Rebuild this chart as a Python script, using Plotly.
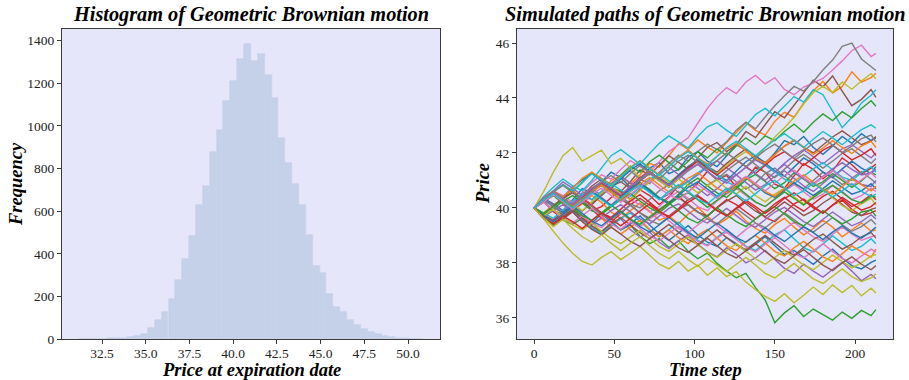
import plotly.graph_objects as go

# ---------------- data: histogram ----------------
bin_centers = [31.39, 31.78, 32.17, 32.57, 32.96, 33.35, 33.75, 34.14, 34.53, 34.92,
               35.32, 35.71, 36.10, 36.50, 36.89, 37.28, 37.67, 38.07, 38.46, 38.85,
               39.25, 39.64, 40.03, 40.43, 40.82, 41.21, 41.60, 42.00, 42.39, 42.78,
               43.18, 43.57, 43.96, 44.36, 44.75, 45.14, 45.53, 45.93, 46.32, 46.71,
               47.11, 47.50, 47.89, 48.29, 48.68, 49.07, 49.46, 49.86, 50.25, 50.64]
bin_width = 0.393
bin_counts = [1, 1, 1, 2, 3, 4, 6, 8, 12, 23,
              50, 89, 127, 188, 277, 376, 484, 630, 719, 880,
              983, 1115, 1212, 1315, 1386, 1303, 1339, 1237, 1131, 943,
              825, 728, 630, 489, 344, 311, 211, 152, 125, 89,
              64, 47, 32, 22, 15, 10, 6, 4, 2, 1]
hist_x_ticks = [32.5, 35.0, 37.5, 40.0, 42.5, 45.0, 47.5, 50.0]
hist_y_ticks = [0, 200, 400, 600, 800, 1000, 1200, 1400]

# ---------------- data: simulated paths ----------------
time_steps = [0, 6, 12, 18, 24, 30, 36, 42, 48, 54,
              60, 66, 72, 78, 84, 90, 96, 102, 108, 114,
              120, 126, 132, 138, 144, 150, 156, 162, 168, 174,
              180, 186, 192, 198, 204, 210, 213]
path_x_ticks = [0, 50, 100, 150, 200]
path_y_ticks = [36, 38, 40, 42, 44, 46]

path_prices = [
    [40.0, 40.35, 40.15, 39.9, 40.3, 40.7, 40.55, 40.95, 41.3, 41.1, 40.75, 41.0, 41.45, 41.65, 41.25, 41.4, 41.85, 42.05, 41.7, 41.5, 41.9, 42.3, 42.1, 41.75, 41.6, 42.0, 42.45, 42.3, 42.6, 42.2, 41.95, 42.25, 42.6, 42.35, 42.7, 42.45, 42.55],
    [40.0, 39.78, 40.05, 40.41, 40.66, 40.3, 40.15, 40.52, 41.0, 41.18, 40.87, 41.2, 41.62, 41.48, 41.9, 42.35, 42.13, 42.47, 42.21, 42.0, 42.38, 42.74, 43.1, 42.82, 42.65, 43.15, 43.48, 43.3, 43.82, 44.26, 44.61, 44.18, 44.42, 44.95, 44.58, 44.74, 44.9],
    [40.0, 39.68, 39.91, 39.55, 39.4, 39.62, 39.3, 39.12, 39.45, 39.2, 39.38, 38.97, 38.7, 38.88, 38.56, 38.8, 38.42, 38.15, 38.36, 37.98, 37.7, 37.46, 37.62, 37.1, 36.65, 35.82, 36.18, 36.44, 36.05, 36.32, 36.12, 35.92, 36.21, 35.98, 36.27, 36.08, 36.3],
    [40.0, 40.22, 39.86, 39.62, 39.95, 40.27, 39.9, 40.05, 40.38, 40.6, 40.31, 40.66, 40.45, 40.12, 40.4, 40.82, 40.58, 40.91, 41.33, 41.02, 41.18, 40.76, 41.05, 41.48, 41.3, 40.86, 40.72, 41.15, 41.61, 41.4, 41.06, 41.35, 41.82, 41.57, 41.24, 41.45, 41.6],
    [40.0, 39.62, 39.41, 39.7, 39.95, 39.58, 39.3, 39.05, 39.38, 39.6, 39.21, 38.94, 39.12, 38.75, 38.52, 38.8, 39.02, 38.68, 38.4, 38.22, 38.55, 38.31, 38.0, 38.18, 38.45, 38.12, 37.8, 37.62, 37.95, 37.7, 37.48, 37.76, 38.02, 37.7, 37.35, 37.58, 37.42],
    [40.0, 40.32, 40.51, 40.22, 40.05, 40.42, 40.8, 41.05, 40.74, 40.6, 40.95, 41.38, 41.2, 41.55, 41.9, 41.66, 41.4, 41.82, 42.2, 42.38, 42.05, 42.3, 42.78, 42.56, 43.02, 43.5, 43.28, 43.75, 44.22, 44.65, 44.41, 44.8, 44.25, 43.72, 43.95, 44.3, 44.02],
    [40.0, 40.28, 40.61, 40.45, 40.2, 40.55, 40.92, 41.2, 41.05, 41.4, 41.72, 41.5, 41.3, 41.68, 42.05, 42.3, 42.55, 43.08, 43.62, 44.05, 44.38, 44.16, 44.58, 44.82, 44.51, 44.74, 44.31, 44.12, 44.4, 44.55, 44.71, 45.02, 45.35, 45.72, 45.92, 45.51, 45.62],
    [40.0, 40.24, 39.92, 39.75, 40.15, 40.52, 40.71, 40.45, 40.82, 41.12, 41.35, 41.05, 40.88, 41.3, 41.62, 41.92, 41.7, 42.05, 42.32, 42.12, 42.41, 42.83, 43.12, 42.88, 43.31, 43.72, 44.08, 44.42, 44.25, 44.6, 45.02, 45.38, 45.88, 46.0, 45.42, 45.12, 45.0],
    [40.0, 39.6, 39.15, 38.72, 38.35, 38.05, 37.92, 38.2, 38.41, 38.12, 38.35, 38.6, 38.28, 37.95, 37.78, 38.05, 37.7, 37.92, 37.55, 37.82, 37.5, 37.68, 37.3, 37.02, 36.78, 36.6, 36.88, 36.55, 36.82, 37.12, 36.85, 37.2, 36.92, 37.18, 36.8, 37.08, 36.9],
    [40.0, 40.42, 40.75, 41.05, 40.8, 40.62, 41.0, 41.45, 41.9, 42.12, 41.85, 41.6, 41.98, 42.35, 42.62, 42.4, 42.18, 42.6, 42.95, 43.1, 42.82, 42.6, 43.0, 43.4, 43.62, 43.35, 43.7, 44.05, 43.85, 44.3, 44.12, 43.5, 42.92, 43.3, 43.82, 44.1, 44.3],
    [40.0, 39.78, 40.1, 40.28, 39.9, 39.62, 39.45, 39.78, 39.5, 39.2, 39.42, 39.71, 39.38, 39.05, 38.82, 39.1, 39.35, 39.02, 38.75, 38.6, 38.92, 38.7, 38.42, 38.68, 38.95, 38.62, 38.3, 38.45, 38.2, 37.95, 38.25, 38.5, 38.18, 37.9, 37.78, 38.02, 38.1],
    [40.0, 40.3, 40.52, 40.2, 39.92, 40.15, 40.45, 40.2, 39.85, 39.62, 39.9, 40.18, 39.88, 39.55, 39.7, 39.42, 39.78, 40.02, 39.7, 39.38, 39.6, 39.88, 39.52, 39.25, 39.08, 39.4, 39.62, 39.3, 39.02, 39.25, 39.55, 39.3, 38.95, 39.2, 39.45, 39.15, 39.2],
    [40.0, 40.22, 40.58, 40.85, 40.6, 40.92, 41.28, 41.05, 40.85, 41.2, 41.52, 41.3, 41.68, 41.92, 41.65, 41.38, 41.7, 42.05, 41.82, 42.15, 41.9, 42.25, 42.55, 42.3, 42.62, 42.45, 42.78, 43.05, 42.75, 43.12, 43.42, 43.18, 43.5, 43.28, 43.62, 43.9, 43.7],
    [40.0, 39.72, 39.45, 39.6, 39.92, 40.18, 39.95, 39.62, 39.48, 39.8, 40.12, 40.35, 40.1, 39.85, 39.7, 39.98, 40.3, 40.45, 40.2, 39.92, 39.7, 39.95, 40.22, 39.98, 39.65, 39.5, 39.82, 40.15, 40.32, 40.05, 39.8, 40.1, 40.28, 39.95, 39.72, 39.82, 39.9],
    [40.0, 40.28, 40.62, 40.95, 40.72, 40.45, 40.3, 40.6, 40.9, 41.15, 40.92, 40.68, 40.95, 41.25, 41.48, 41.2, 40.95, 41.2, 41.5, 41.72, 41.45, 41.2, 41.48, 41.75, 41.55, 41.3, 41.62, 41.9, 42.12, 41.85, 41.6, 41.88, 42.15, 42.3, 42.05, 41.82, 42.0],
    [40.0, 39.8, 40.08, 40.38, 40.58, 40.35, 40.12, 40.45, 40.78, 40.95, 40.7, 40.98, 41.25, 41.1, 40.85, 41.18, 41.5, 41.75, 41.5, 41.3, 41.62, 41.9, 42.15, 41.88, 41.65, 41.95, 42.25, 42.45, 42.2, 42.0, 42.3, 42.58, 42.8, 42.55, 42.3, 42.45, 42.6],
    [40.0, 39.72, 39.55, 39.85, 40.2, 40.38, 40.1, 39.82, 39.65, 39.95, 40.3, 40.12, 39.85, 40.05, 40.38, 40.6, 40.35, 40.05, 39.9, 40.25, 40.5, 40.72, 40.45, 40.2, 40.05, 40.35, 40.62, 40.85, 40.58, 40.32, 40.5, 40.82, 40.6, 40.3, 40.45, 40.72, 40.6],
    [40.0, 40.38, 40.55, 40.3, 40.05, 39.88, 40.2, 40.48, 40.7, 40.42, 40.15, 40.0, 40.32, 40.62, 40.85, 40.55, 40.28, 40.5, 40.82, 41.05, 41.22, 40.95, 40.68, 40.9, 41.25, 41.45, 41.15, 40.88, 40.7, 41.0, 41.3, 41.12, 40.85, 41.08, 41.32, 41.05, 40.9],
    [40.0, 39.82, 40.1, 40.35, 40.15, 39.9, 40.22, 40.55, 40.78, 40.52, 40.3, 40.62, 40.95, 41.18, 40.92, 41.2, 41.5, 41.72, 41.45, 41.22, 41.55, 41.82, 42.05, 41.8, 42.2, 42.58, 42.92, 43.3, 43.78, 44.2, 44.42, 44.2, 44.58, 44.32, 44.62, 44.88, 44.7],
    [40.0, 39.62, 39.4, 39.7, 39.95, 39.6, 39.25, 39.05, 39.35, 39.62, 39.82, 39.5, 39.2, 38.95, 39.22, 39.48, 39.15, 38.82, 38.65, 38.92, 39.2, 38.92, 38.6, 38.45, 38.75, 39.02, 39.2, 38.88, 38.55, 38.4, 38.7, 38.98, 38.72, 38.45, 38.6, 38.88, 38.7],
    [40.0, 40.32, 40.58, 40.4, 40.75, 41.02, 41.25, 40.98, 40.7, 41.05, 41.38, 41.6, 41.32, 41.05, 40.85, 41.2, 41.5, 41.72, 41.45, 41.18, 41.0, 41.35, 41.68, 41.9, 41.62, 41.35, 41.15, 41.5, 41.82, 41.6, 41.3, 41.1, 41.42, 41.7, 41.45, 41.25, 41.5],
    [40.0, 39.78, 39.52, 39.8, 40.02, 39.7, 39.42, 39.62, 39.3, 39.05, 39.3, 39.55, 39.22, 38.95, 39.2, 38.92, 38.7, 39.0, 39.22, 38.9, 38.62, 38.45, 38.78, 39.0, 38.72, 38.42, 38.25, 38.55, 38.78, 38.5, 38.22, 38.05, 38.35, 38.62, 38.4, 38.2, 38.5],
    [40.0, 40.22, 40.45, 40.15, 39.92, 40.25, 40.6, 40.82, 40.55, 40.3, 40.62, 40.9, 40.68, 40.38, 40.2, 40.5, 40.85, 41.08, 40.8, 40.55, 40.38, 40.7, 41.02, 41.22, 40.95, 40.7, 40.92, 41.28, 41.05, 40.78, 40.95, 41.25, 41.0, 40.75, 40.98, 41.3, 41.2],
    [40.0, 39.72, 39.55, 39.88, 40.15, 40.35, 40.08, 39.82, 39.65, 39.95, 40.25, 40.48, 40.2, 39.92, 40.18, 40.42, 40.12, 39.85, 39.7, 40.02, 40.3, 40.12, 39.85, 39.6, 39.85, 40.15, 40.38, 40.1, 39.88, 40.15, 40.42, 40.6, 40.32, 40.05, 40.22, 40.48, 40.3],
    [40.0, 40.3, 40.12, 39.88, 40.15, 40.45, 40.62, 40.38, 40.1, 40.4, 40.68, 40.88, 40.6, 40.32, 40.5, 40.78, 40.98, 40.72, 40.45, 40.7, 41.0, 41.2, 40.92, 40.65, 40.85, 41.15, 41.35, 41.08, 40.8, 40.6, 40.9, 41.18, 41.38, 41.1, 40.85, 40.78, 41.0],
    [40.0, 39.8, 40.08, 40.35, 40.55, 40.25, 39.95, 39.78, 40.05, 40.32, 40.1, 39.82, 39.62, 39.9, 40.2, 40.38, 40.1, 39.85, 39.7, 40.0, 40.25, 40.45, 40.15, 39.88, 39.68, 39.95, 40.22, 39.98, 39.72, 39.9, 40.18, 40.4, 40.12, 39.85, 39.72, 39.95, 40.0],
    [40.0, 39.7, 39.48, 39.75, 40.0, 39.72, 39.45, 39.28, 39.6, 39.82, 39.55, 39.32, 39.6, 39.82, 39.52, 39.25, 39.1, 39.38, 39.62, 39.35, 39.1, 38.92, 39.22, 39.45, 39.18, 38.95, 39.22, 39.48, 39.2, 38.95, 38.78, 39.05, 39.3, 39.05, 38.82, 38.95, 39.0],
    [40.0, 40.22, 40.48, 40.25, 40.02, 40.35, 40.62, 40.88, 40.62, 40.4, 40.72, 41.02, 41.25, 40.98, 40.75, 41.05, 41.35, 41.58, 41.3, 41.05, 41.35, 41.62, 41.85, 41.58, 41.3, 41.1, 41.4, 41.72, 41.95, 41.7, 41.45, 41.7, 41.98, 42.15, 41.88, 41.62, 41.8],
    [40.0, 40.6, 41.3, 41.9, 42.2, 41.7, 41.9, 42.1, 41.6, 41.8, 41.45, 41.1, 41.35, 41.0, 40.75, 41.05, 40.82, 40.55, 40.8, 41.02, 40.7, 40.5, 40.78, 40.45, 40.22, 40.5, 40.72, 40.4, 40.15, 40.42, 40.65, 40.35, 40.08, 39.9, 40.15, 40.35, 40.1],
    [40.0, 39.8, 39.62, 39.92, 40.25, 40.52, 40.3, 40.6, 40.88, 40.65, 40.42, 40.75, 41.05, 41.25, 40.98, 40.72, 40.95, 41.28, 41.5, 41.22, 40.95, 40.78, 41.08, 41.35, 41.58, 41.3, 41.05, 40.88, 41.15, 41.42, 41.65, 41.4, 41.12, 41.0, 41.28, 41.5, 41.3],
    [40.0, 40.3, 40.05, 39.82, 40.1, 40.38, 40.6, 40.35, 40.08, 40.4, 40.7, 40.92, 40.62, 40.35, 40.15, 40.45, 40.75, 40.95, 40.68, 40.42, 40.6, 40.88, 41.1, 40.82, 40.55, 40.38, 40.65, 40.92, 40.68, 40.45, 40.7, 40.98, 40.75, 40.5, 40.62, 40.88, 40.7],
    [40.0, 40.38, 40.62, 40.4, 40.72, 41.08, 41.3, 41.05, 40.82, 41.15, 41.48, 41.72, 41.45, 41.2, 41.52, 41.85, 42.1, 41.82, 41.6, 41.88, 42.15, 42.35, 42.08, 41.8, 41.62, 41.95, 42.25, 42.48, 42.2, 41.95, 42.18, 42.45, 42.2, 41.98, 42.25, 42.42, 42.2],
    [40.0, 39.72, 39.95, 40.25, 40.45, 40.18, 39.9, 39.75, 40.05, 40.3, 40.52, 40.25, 40.0, 39.82, 40.12, 40.38, 40.55, 40.3, 40.02, 40.28, 40.55, 40.78, 40.5, 40.22, 40.05, 40.32, 40.58, 40.35, 40.1, 40.38, 40.62, 40.82, 40.55, 40.3, 40.18, 40.42, 40.4],
    [40.0, 40.22, 40.5, 40.28, 40.05, 40.38, 40.7, 40.92, 40.68, 40.45, 40.78, 41.1, 41.32, 41.05, 40.82, 41.15, 41.45, 41.7, 41.42, 41.2, 41.48, 41.75, 41.5, 41.25, 41.55, 41.85, 42.05, 41.8, 41.55, 41.82, 42.1, 42.28, 42.0, 41.75, 41.92, 42.15, 41.9],
    [40.0, 39.72, 39.9, 40.12, 39.85, 39.55, 39.38, 39.65, 39.9, 40.12, 39.85, 39.6, 39.42, 39.7, 39.98, 40.15, 39.88, 39.6, 39.45, 39.72, 39.98, 39.72, 39.45, 39.3, 39.58, 39.85, 40.02, 39.75, 39.5, 39.32, 39.6, 39.85, 39.6, 39.35, 39.5, 39.75, 39.6],
    [40.0, 39.65, 39.42, 39.7, 39.95, 39.62, 39.35, 39.15, 39.42, 39.65, 39.38, 39.1, 38.88, 39.15, 39.4, 39.12, 38.85, 38.68, 38.95, 39.2, 38.92, 38.65, 38.48, 38.75, 39.0, 38.72, 38.45, 38.28, 38.55, 38.85, 39.05, 38.78, 38.5, 38.68, 38.95, 39.1, 38.9],
    [40.0, 40.2, 39.92, 39.62, 39.45, 39.72, 39.98, 39.7, 39.42, 39.22, 39.5, 39.25, 38.98, 38.8, 39.08, 39.32, 39.05, 38.78, 38.62, 38.9, 39.12, 38.85, 38.58, 38.4, 38.68, 38.92, 38.62, 38.35, 38.18, 38.45, 38.7, 38.42, 38.15, 38.0, 38.25, 38.5, 38.4],
    [40.0, 40.28, 40.05, 39.78, 39.98, 40.25, 40.05, 39.75, 39.58, 39.85, 40.1, 39.82, 39.55, 39.4, 39.68, 39.95, 40.12, 39.85, 39.6, 39.42, 39.7, 39.98, 39.72, 39.45, 39.28, 39.55, 39.82, 39.58, 39.3, 39.12, 39.4, 39.65, 39.38, 39.15, 39.32, 39.58, 39.4],
    [40.0, 39.72, 39.95, 39.68, 39.38, 39.2, 39.45, 39.15, 38.88, 38.7, 38.95, 39.18, 38.88, 38.6, 38.42, 38.7, 38.95, 38.65, 38.38, 38.2, 38.45, 38.7, 38.42, 38.15, 37.95, 38.2, 38.45, 38.18, 37.92, 37.75, 38.02, 38.28, 38.05, 37.82, 38.0, 38.25, 38.3],
    [40.0, 40.32, 40.6, 40.85, 40.62, 40.95, 41.25, 41.02, 40.8, 41.12, 41.45, 41.7, 41.42, 41.18, 41.5, 41.82, 42.05, 41.8, 41.55, 41.88, 42.2, 42.42, 42.15, 41.9, 42.2, 42.48, 42.7, 42.45, 42.2, 42.5, 42.78, 42.55, 42.3, 42.58, 42.85, 43.02, 42.9],
    [40.0, 39.72, 39.5, 39.78, 40.05, 39.8, 39.52, 39.35, 39.62, 39.88, 39.6, 39.32, 39.12, 39.4, 39.65, 39.38, 39.1, 38.9, 39.18, 39.45, 39.2, 38.92, 38.75, 39.02, 39.28, 39.0, 38.78, 39.05, 39.32, 39.1, 38.85, 39.12, 39.35, 39.08, 38.9, 39.15, 39.3],
    [40.0, 40.3, 40.55, 40.28, 40.05, 40.32, 40.6, 40.82, 40.55, 40.3, 40.6, 40.88, 41.1, 40.85, 40.58, 40.8, 41.08, 41.28, 41.0, 40.72, 40.55, 40.82, 41.1, 40.85, 40.6, 40.42, 40.7, 40.98, 41.2, 40.95, 40.68, 40.5, 40.78, 41.05, 40.85, 40.62, 40.8],
    [40.0, 39.78, 40.05, 40.28, 40.0, 39.72, 39.55, 39.82, 40.1, 39.85, 39.58, 39.4, 39.68, 39.95, 40.18, 39.9, 39.62, 39.45, 39.72, 40.0, 39.75, 39.5, 39.32, 39.6, 39.88, 40.05, 39.78, 39.5, 39.35, 39.62, 39.9, 39.65, 39.42, 39.6, 39.85, 39.92, 39.7],
    [40.0, 39.62, 39.42, 39.7, 39.5, 39.25, 39.55, 39.82, 39.6, 39.35, 39.62, 39.9, 40.15, 39.88, 39.65, 39.92, 40.2, 40.42, 40.15, 39.9, 39.72, 40.0, 40.28, 40.05, 39.8, 40.05, 40.35, 40.55, 40.28, 40.0, 39.82, 40.1, 40.38, 40.15, 39.92, 40.05, 40.2],
    [40.0, 40.38, 40.6, 40.35, 40.12, 40.42, 40.72, 40.95, 40.7, 40.48, 40.78, 41.08, 41.3, 41.05, 40.82, 41.12, 41.4, 41.6, 41.32, 41.08, 40.9, 41.2, 41.48, 41.25, 41.0, 41.3, 41.58, 41.3, 41.05, 40.88, 41.15, 41.42, 41.65, 41.4, 41.2, 41.28, 41.4],
    [40.0, 39.68, 39.35, 39.6, 39.85, 39.5, 39.22, 39.02, 39.3, 39.05, 38.78, 38.6, 38.88, 39.12, 38.85, 38.55, 38.38, 38.65, 38.9, 38.62, 38.35, 38.18, 38.45, 38.7, 38.42, 38.15, 37.98, 38.25, 38.48, 38.2, 37.92, 37.72, 38.0, 38.22, 37.95, 37.75, 37.9],
    [40.0, 40.22, 40.48, 40.2, 39.95, 40.22, 40.5, 40.72, 40.45, 40.2, 40.5, 40.78, 41.0, 40.72, 40.48, 40.3, 40.58, 40.85, 40.6, 40.35, 40.65, 40.92, 41.15, 40.88, 40.62, 40.9, 41.18, 41.38, 41.1, 40.85, 41.12, 41.35, 41.08, 40.82, 41.02, 41.28, 41.1],
    [40.0, 40.3, 40.58, 40.82, 40.55, 40.3, 40.62, 40.95, 41.18, 40.92, 41.25, 41.55, 41.3, 41.05, 41.38, 41.7, 41.92, 41.65, 41.4, 41.72, 42.0, 41.75, 41.5, 41.82, 42.1, 42.32, 42.05, 41.8, 42.08, 42.35, 42.55, 42.28, 42.02, 42.25, 42.52, 42.65, 42.4],
    [40.0, 39.62, 39.32, 39.58, 39.25, 38.95, 38.75, 39.02, 38.72, 38.45, 38.72, 38.95, 38.62, 38.35, 38.15, 38.42, 38.12, 37.88, 38.15, 37.92, 37.68, 37.95, 38.2, 37.92, 37.62, 37.45, 37.72, 37.98, 37.7, 37.42, 37.25, 37.52, 37.78, 37.5, 37.32, 37.45, 37.6],
    [40.0, 40.3, 40.52, 40.25, 40.0, 40.28, 40.55, 40.3, 40.05, 40.35, 40.62, 40.82, 40.55, 40.3, 40.6, 40.85, 40.6, 40.32, 40.15, 40.45, 40.72, 40.5, 40.25, 40.52, 40.8, 41.0, 40.72, 40.45, 40.62, 40.9, 40.65, 40.4, 40.62, 40.88, 40.6, 40.42, 40.5],
]

tab10 = ["#1f77b4", "#ff7f0e", "#2ca02c", "#d62728", "#9467bd",
         "#8c564b", "#e377c2", "#7f7f7f", "#bcbd22", "#17becf"]

W, H = 909, 380
SERIF = "Liberation Serif, Times New Roman, serif"
BAR_COLOR = "rgb(197,209,232)"

fig = go.Figure()

fig.add_trace(go.Bar(
    x=bin_centers, y=bin_counts, width=bin_width,
    marker=dict(color=BAR_COLOR, line=dict(width=0.6, color=BAR_COLOR)),
    xaxis="x", yaxis="y", showlegend=False,
))

for i, prices in enumerate(path_prices):
    fig.add_trace(go.Scatter(
        x=time_steps[:len(prices)], y=prices, mode="lines",
        line=dict(color=tab10[i % 10], width=1.4),
        xaxis="x2", yaxis="y2", showlegend=False, hoverinfo="skip",
    ))


def px_x(p):
    return p / W


def px_y(p):
    return 1 - p / H


axis_common = dict(
    showgrid=False, zeroline=False, showline=True, mirror=True,
    linecolor="#3a3a3a", linewidth=1.3, ticks="outside", ticklen=4,
    tickwidth=1, tickcolor="#3a3a3a", automargin=False,
    tickfont=dict(family=SERIF, size=13.5, color="#222"),
)

left_x0, left_x1 = 62, 440
right_x0, right_x1 = 517, 893
top_y, bot_y = 29, 339

fig.update_layout(
    width=W, height=H,
    margin=dict(l=0, r=0, t=0, b=0, pad=0, autoexpand=False),
    paper_bgcolor="white",
    plot_bgcolor="#E6E6FA",
    bargap=0,
    xaxis=dict(domain=[px_x(left_x0), px_x(left_x1)], range=[30.21, 51.83],
               tickvals=hist_x_ticks, ticktext=[f"{v:.1f}" for v in hist_x_ticks],
               anchor="y", ticklabelstandoff=-2, **axis_common),
    yaxis=dict(domain=[px_y(bot_y), px_y(top_y)], range=[0, 1455],
               tickvals=hist_y_ticks, anchor="x", **axis_common),
    xaxis2=dict(domain=[px_x(right_x0), px_x(right_x1)], range=[-10.65, 223.65],
                tickvals=path_x_ticks, anchor="y2", ticklabelstandoff=-2, **axis_common),
    yaxis2=dict(domain=[px_y(bot_y), px_y(top_y)], range=[35.23, 46.51],
                tickvals=path_y_ticks, anchor="x2", **axis_common),
)

title_font = dict(family=SERIF, size=20.3, color="black")
label_font = dict(family=SERIF, size=18.5, color="black")

annotations = [
    dict(text="<b><i>Histogram of Geometric Brownian motion</i></b>",
         x=px_x((left_x0 + left_x1) / 2), y=px_y(14), font=title_font),
    dict(text="<b><i>Simulated paths of Geometric Brownian motion</i></b>",
         x=px_x((right_x0 + right_x1) / 2), y=px_y(14), font=title_font),
    dict(text="<b><i>Price at expiration date</i></b>",
         x=px_x((left_x0 + left_x1) / 2), y=px_y(370), font=label_font),
    dict(text="<b><i>Time step</i></b>",
         x=px_x((right_x0 + right_x1) / 2), y=px_y(370), font=label_font),
    dict(text="<b><i>Frequency</i></b>", textangle=-90,
         x=px_x(16), y=px_y((top_y + bot_y) / 2), font=label_font),
    dict(text="<b><i>Price</i></b>", textangle=-90,
         x=px_x(483), y=px_y((top_y + bot_y) / 2), font=label_font),
]
for a in annotations:
    a.update(xref="paper", yref="paper", showarrow=False,
             xanchor="center", yanchor="middle")
fig.update_layout(annotations=annotations)

fig.write_html("out.html")
